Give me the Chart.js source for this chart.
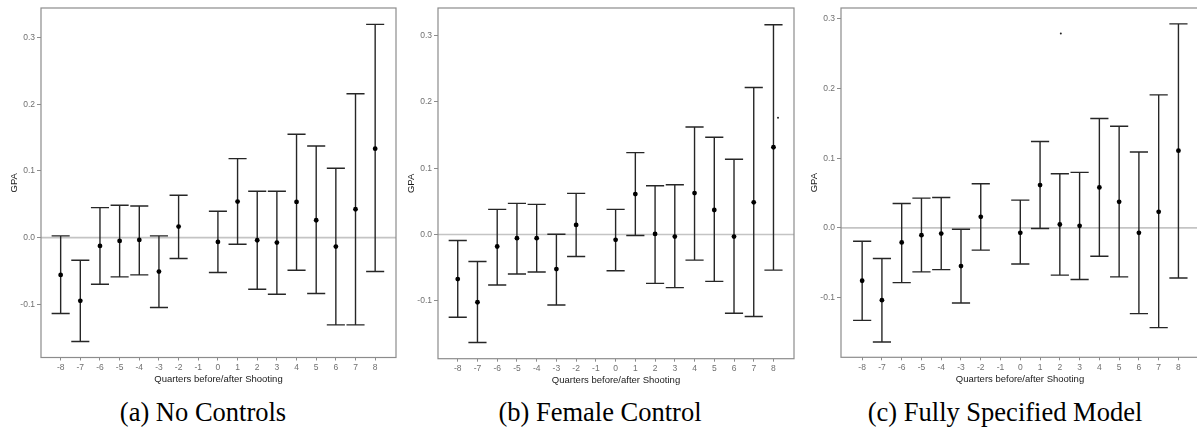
<!DOCTYPE html>
<html>
<head>
<meta charset="utf-8">
<script src="https://cdn.jsdelivr.net/npm/chart.js@4.4.0/dist/chart.umd.min.js"></script>
<style>
  body { margin: 0; width: 1197px; height: 428px; overflow: hidden; background: #fff; position: relative; }
  canvas { position: absolute; top: 0; }
  .caption {
    position: absolute; top: 398.5px; transform: translateX(-50%);
    font-family: "Liberation Serif", "Times New Roman", serif;
    font-size: 26.5px; line-height: 26.5px; white-space: nowrap; color: #000;
  }
</style>
</head>
<body>
<canvas id="panelA" width="400" height="392" style="left:0px"></canvas>
<canvas id="panelB" width="398" height="392" style="left:400px"></canvas>
<canvas id="panelC" width="403" height="392" style="left:800px"></canvas>
<div class="caption" style="left:203px">(a) No Controls</div>
<div class="caption" style="left:600px">(b) Female Control</div>
<div class="caption" style="left:1005px">(c) Fully Specified Model</div>
<script>
// quarter -1 is the reference period, so it has no estimate
const quarters = [-8, -7, -6, -5, -4, -3, -2, 0, 1, 2, 3, 4, 5, 6, 7, 8];
const xTicks = [-8, -7, -6, -5, -4, -3, -2, -1, 0, 1, 2, 3, 4, 5, 6, 7, 8];
const yTicks = [-0.1, 0.0, 0.1, 0.2, 0.3];

// (a) No Controls
const noControlsEst  = [-0.056, -0.095, -0.0125, -0.005, -0.0035, -0.051, 0.0165, -0.0065, 0.054, -0.004, -0.0075, 0.0535, 0.026, -0.0135, 0.0425, 0.1335];
const noControlsLow  = [-0.114, -0.156, -0.070, -0.059, -0.056, -0.105, -0.0315, -0.0525, -0.010, -0.0775, -0.085, -0.049, -0.084, -0.131, -0.131, -0.051];
const noControlsHigh = [0.0025, -0.034, 0.045, 0.0486, 0.0475, 0.0025, 0.0635, 0.0395, 0.1185, 0.0695, 0.0695, 0.155, 0.1375, 0.104, 0.216, 0.320];

// (b) Female Control
const femaleEst  = [-0.067, -0.102, -0.018, -0.0055, -0.0055, -0.052, 0.0145, -0.008, 0.061, 0.001, -0.003, 0.0625, 0.037, -0.003, 0.0485, 0.1315];
const femaleLow  = [-0.1245, -0.1625, -0.076, -0.0595, -0.0565, -0.106, -0.033, -0.0545, -0.0015, -0.0735, -0.080, -0.0385, -0.0705, -0.1185, -0.1235, -0.0535];
const femaleHigh = [-0.009, -0.0405, 0.038, 0.047, 0.0455, 0.0005, 0.062, 0.038, 0.1235, 0.0735, 0.075, 0.162, 0.1465, 0.1135, 0.2215, 0.316];
const femaleStray = [{ x: 8.23, y: 0.176 }];

// (c) Fully Specified Model
const fullEst  = [-0.076, -0.104, -0.021, -0.0105, -0.0082, -0.055, 0.0158, -0.0072, 0.0614, 0.0048, 0.0029, 0.058, 0.0374, -0.0072, 0.023, 0.1108];
const fullLow  = [-0.133, -0.164, -0.0787, -0.0633, -0.060, -0.108, -0.032, -0.052, -0.001, -0.068, -0.0743, -0.0408, -0.0705, -0.1233, -0.1434, -0.072];
const fullHigh = [-0.0192, -0.044, 0.035, 0.0427, 0.0436, -0.002, 0.0633, 0.0398, 0.124, 0.0777, 0.0796, 0.157, 0.146, 0.109, 0.191, 0.293];
const fullStray = [{ x: 2.05, y: 0.279 }];

const FONT = '"Liberation Sans", Arial, sans-serif';

// zero line, error bars and the panel frame
const errorBarPlugin = {
    id: 'errorBars',
    beforeDatasetsDraw(chart, args, opts) {
        const { ctx, chartArea: area, scales: { x, y } } = chart;
        ctx.save();
        ctx.beginPath();
        ctx.rect(area.left, area.top, area.right - area.left, area.bottom - area.top);
        ctx.clip();

        const y0 = y.getPixelForValue(0);
        ctx.strokeStyle = '#c4c4c4';
        ctx.lineWidth = 1.6;
        ctx.beginPath();
        ctx.moveTo(area.left, y0);
        ctx.lineTo(area.right, y0);
        ctx.stroke();

        ctx.strokeStyle = '#262626';
        ctx.lineWidth = 1.4;
        opts.x.forEach((q, i) => {
            const px = x.getPixelForValue(q);
            const left = x.getPixelForValue(q - opts.capHalf);
            const right = x.getPixelForValue(q + opts.capHalf);
            const lo = y.getPixelForValue(opts.low[i]);
            const hi = y.getPixelForValue(opts.high[i]);
            ctx.beginPath();
            ctx.moveTo(px, lo); ctx.lineTo(px, hi);
            ctx.moveTo(left, lo); ctx.lineTo(right, lo);
            ctx.moveTo(left, hi); ctx.lineTo(right, hi);
            ctx.stroke();
        });
        ctx.restore();
    },
    afterDatasetsDraw(chart) {
        const { ctx, chartArea: area } = chart;
        ctx.save();
        ctx.strokeStyle = '#8c8c8c';
        ctx.lineWidth = 1.2;
        ctx.strokeRect(area.left, area.top, area.right - area.left, area.bottom - area.top);
        ctx.restore();
    }
};

function makePanel(id, p) {
    const datasets = [{
        data: quarters.map((q, i) => ({ x: q, y: p.est[i] })),
        backgroundColor: '#000',
        borderWidth: 0,
        pointRadius: 2.4
    }];
    if (p.stray) {
        datasets.push({
            data: p.stray,
            backgroundColor: '#222',
            borderWidth: 0,
            pointRadius: 1
        });
    }

    return new Chart(document.getElementById(id), {
        type: 'scatter',
        data: { datasets },
        options: {
            responsive: false,
            animation: false,
            devicePixelRatio: 1,
            layout: { padding: { top: 8, right: 1, bottom: 0, left: 0 } },
            plugins: {
                legend: { display: false },
                tooltip: { enabled: false },
                errorBars: { x: quarters, low: p.low, high: p.high, capHalf: 0.46 }
            },
            scales: {
                x: {
                    type: 'linear',
                    min: p.xMin,
                    max: p.xMax,
                    afterBuildTicks: axis => { axis.ticks = xTicks.map(v => ({ value: v })); },
                    afterFit: axis => { axis.height = p.xHeight; },
                    grid: { drawOnChartArea: false, drawTicks: true, tickLength: 3, color: '#8c8c8c' },
                    border: { display: false },
                    ticks: {
                        padding: 2,
                        color: '#707070',
                        font: { family: FONT, size: 8.5 },
                        maxRotation: 0,
                        callback: v => String(v)
                    },
                    title: {
                        display: true,
                        text: 'Quarters before/after Shooting',
                        color: '#1a1a1a',
                        font: { family: FONT, size: 9.5 },
                        padding: { top: 0, bottom: p.xTitlePad }
                    }
                },
                y: {
                    min: p.yMin,
                    max: p.yMax,
                    afterBuildTicks: axis => { axis.ticks = yTicks.map(v => ({ value: v })); },
                    afterFit: axis => { axis.width = p.yWidth; },
                    grid: { drawOnChartArea: false, drawTicks: true, tickLength: 4, color: '#8c8c8c' },
                    border: { display: false },
                    ticks: {
                        padding: 2,
                        color: '#707070',
                        font: { family: FONT, size: 8.5 },
                        callback: v => v.toFixed(1)
                    },
                    title: {
                        display: true,
                        text: 'GPA',
                        color: '#1a1a1a',
                        font: { family: FONT, size: 9.5 },
                        padding: { top: p.yTitlePad, bottom: 0 }
                    }
                }
            }
        },
        plugins: [errorBarPlugin]
    });
}

makePanel('panelA', {
    est: noControlsEst, low: noControlsLow, high: noControlsHigh,
    xMin: -9, xMax: 9.06, yMin: -0.180, yMax: 0.3446,
    yWidth: 41, xHeight: 34.5, xTitlePad: 7, yTitlePad: 8.3
});
makePanel('panelB', {
    est: femaleEst, low: femaleLow, high: femaleHigh, stray: femaleStray,
    xMin: -9, xMax: 9.04, yMin: -0.187, yMax: 0.3413,
    yWidth: 38, xHeight: 33.3, xTitlePad: 6.3, yTitlePad: 5.3
});
makePanel('panelC', {
    est: fullEst, low: fullLow, high: fullHigh, stray: fullStray,
    xMin: -9.07, xMax: 9.04, yMin: -0.186, yMax: 0.3158,
    yWidth: 41, xHeight: 34.7, xTitlePad: 7, yTitlePad: 8.3
});
</script>
</body>
</html>
